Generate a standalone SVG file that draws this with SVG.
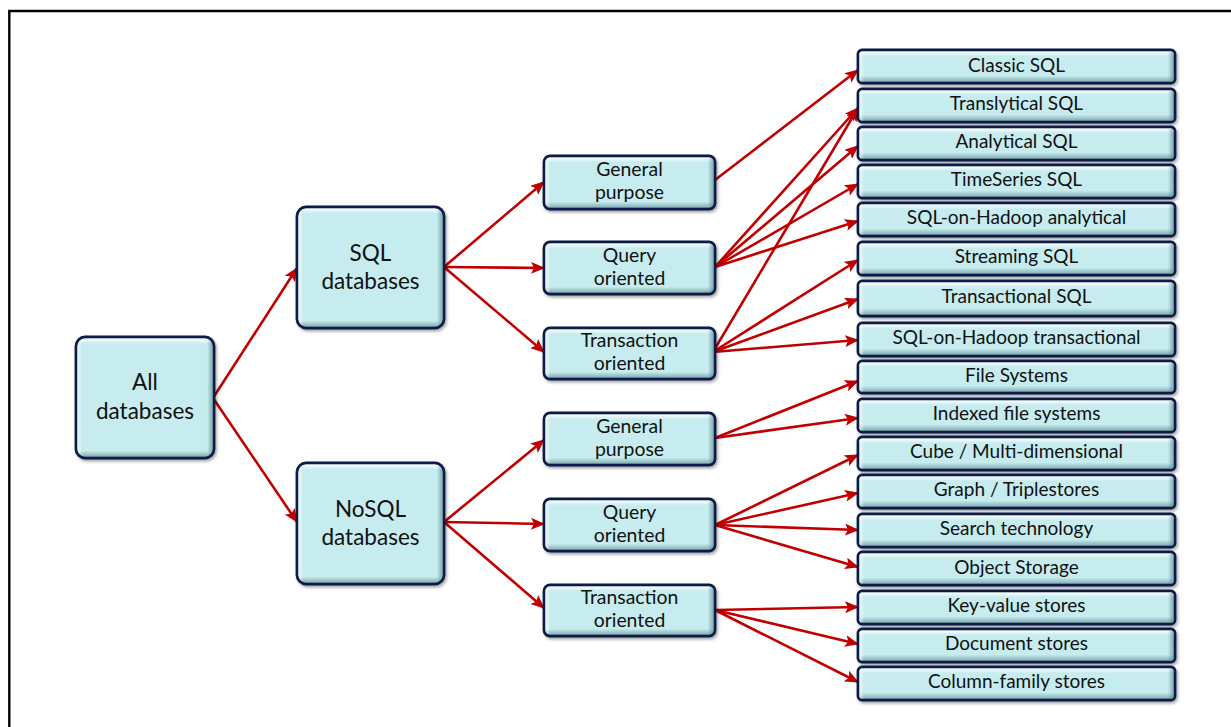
<svg xmlns="http://www.w3.org/2000/svg" width="1231" height="727" viewBox="0 0 1231 727">
  <defs>
    <style>
      .box { fill: #c6ecef; stroke: #0c1d47; stroke-width: 2.8; filter: url(#shadow); }
      .ov { stroke: none; pointer-events: none; }
      .t { font-family: Lato, "Liberation Sans", sans-serif; fill: #111; text-anchor: middle; }
      .leaf { font-size: 19px; }
      .mid { font-size: 19.4px; }
      .big { font-size: 22.5px; }
      .edge { stroke: #c00000; stroke-width: 2.6; fill: none; marker-end: url(#arrow); }
    </style>
    <filter id="shadow" x="-10%" y="-20%" width="130%" height="150%">
      <feDropShadow dx="1.5" dy="2" stdDeviation="1.4" flood-color="#000" flood-opacity="0.35"/>
    </filter>
    <marker id="arrow" markerUnits="userSpaceOnUse" markerWidth="14" markerHeight="12" viewBox="0 0 14 12" refX="13" refY="6" orient="auto">
      <path d="M0,0 L14,6 L0,12 L3,6 Z" fill="#c00000"/>
    </marker>
    <!-- bevel overlays: light top/left edge, darker bottom/right edge -->
    <linearGradient id="vLeaf" x1="0" y1="0" x2="0" y2="1">
      <stop offset="0" stop-color="#fff" stop-opacity="0.95"/>
      <stop offset="0.16" stop-color="#fff" stop-opacity="0"/>
      <stop offset="0.8" stop-color="#4d7b82" stop-opacity="0"/>
      <stop offset="1" stop-color="#4d7b82" stop-opacity="0.55"/>
    </linearGradient>
    <linearGradient id="hLeaf" x1="0" y1="0" x2="1" y2="0">
      <stop offset="0" stop-color="#fff" stop-opacity="0.7"/>
      <stop offset="0.015" stop-color="#fff" stop-opacity="0"/>
      <stop offset="0.982" stop-color="#4d7b82" stop-opacity="0"/>
      <stop offset="1" stop-color="#4d7b82" stop-opacity="0.6"/>
    </linearGradient>
    <linearGradient id="vMid" x1="0" y1="0" x2="0" y2="1">
      <stop offset="0" stop-color="#fff" stop-opacity="0.95"/>
      <stop offset="0.1" stop-color="#fff" stop-opacity="0"/>
      <stop offset="0.88" stop-color="#4d7b82" stop-opacity="0"/>
      <stop offset="1" stop-color="#4d7b82" stop-opacity="0.55"/>
    </linearGradient>
    <linearGradient id="hMid" x1="0" y1="0" x2="1" y2="0">
      <stop offset="0" stop-color="#fff" stop-opacity="0.7"/>
      <stop offset="0.03" stop-color="#fff" stop-opacity="0"/>
      <stop offset="0.965" stop-color="#4d7b82" stop-opacity="0"/>
      <stop offset="1" stop-color="#4d7b82" stop-opacity="0.6"/>
    </linearGradient>
    <linearGradient id="vBig" x1="0" y1="0" x2="0" y2="1">
      <stop offset="0" stop-color="#fff" stop-opacity="0.95"/>
      <stop offset="0.045" stop-color="#fff" stop-opacity="0"/>
      <stop offset="0.95" stop-color="#4d7b82" stop-opacity="0"/>
      <stop offset="1" stop-color="#4d7b82" stop-opacity="0.55"/>
    </linearGradient>
    <linearGradient id="hBig" x1="0" y1="0" x2="1" y2="0">
      <stop offset="0" stop-color="#fff" stop-opacity="0.7"/>
      <stop offset="0.035" stop-color="#fff" stop-opacity="0"/>
      <stop offset="0.96" stop-color="#4d7b82" stop-opacity="0"/>
      <stop offset="1" stop-color="#4d7b82" stop-opacity="0.6"/>
    </linearGradient>
  </defs>

  <rect width="1231" height="727" fill="#fff"/>
  <!-- page frame (runs off the right and bottom edges) -->
  <path d="M9.3,727 V11 H1231" fill="none" stroke="#000" stroke-width="2.4"/>

  <!-- connectors -->
  <g id="connectors">
    <line class="edge" x1="213" y1="398" x2="297" y2="268"/>
    <line class="edge" x1="213" y1="398" x2="297" y2="522"/>

    <line class="edge" x1="444" y1="267" x2="544" y2="182"/>
    <line class="edge" x1="444" y1="267" x2="544" y2="268"/>
    <line class="edge" x1="444" y1="267" x2="544" y2="352"/>

    <line class="edge" x1="444" y1="522" x2="544" y2="440"/>
    <line class="edge" x1="444" y1="522" x2="544" y2="524"/>
    <line class="edge" x1="444" y1="522" x2="544" y2="608"/>

    <line class="edge" x1="715" y1="180" x2="858" y2="70"/>

    <line class="edge" x1="715" y1="267" x2="858" y2="108"/>
    <line class="edge" x1="715" y1="267" x2="858" y2="146"/>
    <line class="edge" x1="715" y1="267" x2="858" y2="184"/>
    <line class="edge" x1="715" y1="267" x2="858" y2="221"/>

    <line class="edge" x1="713" y1="352" x2="858" y2="108"/>
    <line class="edge" x1="713" y1="352" x2="858" y2="260"/>
    <line class="edge" x1="713" y1="352" x2="858" y2="299"/>
    <line class="edge" x1="713" y1="352" x2="858" y2="340"/>

    <line class="edge" x1="715" y1="438" x2="858" y2="381"/>
    <line class="edge" x1="715" y1="438" x2="858" y2="418"/>

    <line class="edge" x1="715" y1="525" x2="858" y2="455"/>
    <line class="edge" x1="715" y1="525" x2="858" y2="493"/>
    <line class="edge" x1="715" y1="525" x2="858" y2="530"/>
    <line class="edge" x1="715" y1="525" x2="858" y2="567"/>

    <line class="edge" x1="715" y1="610" x2="858" y2="607"/>
    <line class="edge" x1="715" y1="610" x2="858" y2="644"/>
    <line class="edge" x1="715" y1="610" x2="858" y2="682"/>
  </g>

  <!-- level 0 -->
  <g id="all-databases">
    <rect class="box" x="76" y="337" width="138" height="121" rx="9"/>
    <rect class="ov" x="77.4" y="338.4" width="135.2" height="118.2" rx="8" fill="url(#vBig)"/>
    <rect class="ov" x="77.4" y="338.4" width="135.2" height="118.2" rx="8" fill="url(#hBig)"/>
    <text class="t big" x="145" y="390">All<tspan x="145" dy="29">databases</tspan></text>
  </g>

  <!-- level 1 -->
  <g id="sql-databases">
    <rect class="box" x="297" y="207" width="147" height="121" rx="9"/>
    <rect class="ov" x="298.4" y="208.4" width="144.2" height="118.2" rx="8" fill="url(#vBig)"/>
    <rect class="ov" x="298.4" y="208.4" width="144.2" height="118.2" rx="8" fill="url(#hBig)"/>
    <text class="t big" x="370.5" y="261">SQL<tspan x="370.5" dy="28">databases</tspan></text>
  </g>
  <g id="nosql-databases">
    <rect class="box" x="297" y="463" width="147" height="121" rx="9"/>
    <rect class="ov" x="298.4" y="464.4" width="144.2" height="118.2" rx="8" fill="url(#vBig)"/>
    <rect class="ov" x="298.4" y="464.4" width="144.2" height="118.2" rx="8" fill="url(#hBig)"/>
    <text class="t big" x="370.5" y="517">NoSQL<tspan x="370.5" dy="28">databases</tspan></text>
  </g>

  <!-- level 2 -->
  <g id="sql-general">
    <rect class="box" x="544" y="156" width="171" height="53" rx="6"/>
    <rect class="ov" x="545.4" y="157.4" width="168.2" height="50.2" rx="5" fill="url(#vMid)"/>
    <rect class="ov" x="545.4" y="157.4" width="168.2" height="50.2" rx="5" fill="url(#hMid)"/>
    <text class="t mid" x="629.5" y="175.5">General<tspan x="629.5" dy="23.4">purpose</tspan></text>
  </g>
  <g id="sql-query">
    <rect class="box" x="544" y="242" width="171" height="52" rx="6"/>
    <rect class="ov" x="545.4" y="243.4" width="168.2" height="49.2" rx="5" fill="url(#vMid)"/>
    <rect class="ov" x="545.4" y="243.4" width="168.2" height="49.2" rx="5" fill="url(#hMid)"/>
    <text class="t mid" x="629.5" y="261.5">Query<tspan x="629.5" dy="23.4">oriented</tspan></text>
  </g>
  <g id="sql-transaction">
    <rect class="box" x="544" y="328" width="171" height="51" rx="6"/>
    <rect class="ov" x="545.4" y="329.4" width="168.2" height="48.2" rx="5" fill="url(#vMid)"/>
    <rect class="ov" x="545.4" y="329.4" width="168.2" height="48.2" rx="5" fill="url(#hMid)"/>
    <text class="t mid" x="629.5" y="346.5">Transaction<tspan x="629.5" dy="23.4">oriented</tspan></text>
  </g>
  <g id="nosql-general">
    <rect class="box" x="544" y="413" width="171" height="52" rx="6"/>
    <rect class="ov" x="545.4" y="414.4" width="168.2" height="49.2" rx="5" fill="url(#vMid)"/>
    <rect class="ov" x="545.4" y="414.4" width="168.2" height="49.2" rx="5" fill="url(#hMid)"/>
    <text class="t mid" x="629.5" y="432.5">General<tspan x="629.5" dy="23.4">purpose</tspan></text>
  </g>
  <g id="nosql-query">
    <rect class="box" x="544" y="499" width="171" height="52" rx="6"/>
    <rect class="ov" x="545.4" y="500.4" width="168.2" height="49.2" rx="5" fill="url(#vMid)"/>
    <rect class="ov" x="545.4" y="500.4" width="168.2" height="49.2" rx="5" fill="url(#hMid)"/>
    <text class="t mid" x="629.5" y="518.5">Query<tspan x="629.5" dy="23.4">oriented</tspan></text>
  </g>
  <g id="nosql-transaction">
    <rect class="box" x="544" y="585" width="171" height="51" rx="6"/>
    <rect class="ov" x="545.4" y="586.4" width="168.2" height="48.2" rx="5" fill="url(#vMid)"/>
    <rect class="ov" x="545.4" y="586.4" width="168.2" height="48.2" rx="5" fill="url(#hMid)"/>
    <text class="t mid" x="629.5" y="603.5">Transaction<tspan x="629.5" dy="23.4">oriented</tspan></text>
  </g>

  <!-- level 3: SQL categories -->
  <g id="classic-sql">
    <rect class="box" x="858" y="50" width="317" height="33" rx="4"/>
    <rect class="ov" x="859.4" y="51.4" width="314.2" height="30.2" rx="3" fill="url(#vLeaf)"/>
    <rect class="ov" x="859.4" y="51.4" width="314.2" height="30.2" rx="3" fill="url(#hLeaf)"/>
    <text class="t leaf" x="1016.5" y="72">Classic SQL</text>
  </g>
  <g id="translytical-sql">
    <rect class="box" x="858" y="89" width="317" height="33" rx="4"/>
    <rect class="ov" x="859.4" y="90.4" width="314.2" height="30.2" rx="3" fill="url(#vLeaf)"/>
    <rect class="ov" x="859.4" y="90.4" width="314.2" height="30.2" rx="3" fill="url(#hLeaf)"/>
    <text class="t leaf" x="1016.5" y="110">Translytical SQL</text>
  </g>
  <g id="analytical-sql">
    <rect class="box" x="858" y="127" width="317" height="33" rx="4"/>
    <rect class="ov" x="859.4" y="128.4" width="314.2" height="30.2" rx="3" fill="url(#vLeaf)"/>
    <rect class="ov" x="859.4" y="128.4" width="314.2" height="30.2" rx="3" fill="url(#hLeaf)"/>
    <text class="t leaf" x="1016.5" y="148">Analytical SQL</text>
  </g>
  <g id="timeseries-sql">
    <rect class="box" x="858" y="165" width="317" height="33" rx="4"/>
    <rect class="ov" x="859.4" y="166.4" width="314.2" height="30.2" rx="3" fill="url(#vLeaf)"/>
    <rect class="ov" x="859.4" y="166.4" width="314.2" height="30.2" rx="3" fill="url(#hLeaf)"/>
    <text class="t leaf" x="1016.5" y="186">TimeSeries SQL</text>
  </g>
  <g id="sql-on-hadoop-analytical">
    <rect class="box" x="858" y="203" width="317" height="33" rx="4"/>
    <rect class="ov" x="859.4" y="204.4" width="314.2" height="30.2" rx="3" fill="url(#vLeaf)"/>
    <rect class="ov" x="859.4" y="204.4" width="314.2" height="30.2" rx="3" fill="url(#hLeaf)"/>
    <text class="t leaf" x="1016.5" y="224">SQL-on-Hadoop analytical</text>
  </g>
  <g id="streaming-sql">
    <rect class="box" x="858" y="242" width="317" height="33" rx="4"/>
    <rect class="ov" x="859.4" y="243.4" width="314.2" height="30.2" rx="3" fill="url(#vLeaf)"/>
    <rect class="ov" x="859.4" y="243.4" width="314.2" height="30.2" rx="3" fill="url(#hLeaf)"/>
    <text class="t leaf" x="1016.5" y="263">Streaming SQL</text>
  </g>
  <g id="transactional-sql">
    <rect class="box" x="858" y="281" width="317" height="35" rx="4"/>
    <rect class="ov" x="859.4" y="282.4" width="314.2" height="32.2" rx="3" fill="url(#vLeaf)"/>
    <rect class="ov" x="859.4" y="282.4" width="314.2" height="32.2" rx="3" fill="url(#hLeaf)"/>
    <text class="t leaf" x="1016.5" y="303">Transactional SQL</text>
  </g>
  <g id="sql-on-hadoop-transactional">
    <rect class="box" x="858" y="323" width="317" height="33" rx="4"/>
    <rect class="ov" x="859.4" y="324.4" width="314.2" height="30.2" rx="3" fill="url(#vLeaf)"/>
    <rect class="ov" x="859.4" y="324.4" width="314.2" height="30.2" rx="3" fill="url(#hLeaf)"/>
    <text class="t leaf" x="1016.5" y="344">SQL-on-Hadoop transactional</text>
  </g>

  <!-- level 3: NoSQL categories -->
  <g id="file-systems">
    <rect class="box" x="858" y="361" width="317" height="32" rx="4"/>
    <rect class="ov" x="859.4" y="362.4" width="314.2" height="29.2" rx="3" fill="url(#vLeaf)"/>
    <rect class="ov" x="859.4" y="362.4" width="314.2" height="29.2" rx="3" fill="url(#hLeaf)"/>
    <text class="t leaf" x="1016.5" y="382">File Systems</text>
  </g>
  <g id="indexed-file-systems">
    <rect class="box" x="858" y="399" width="317" height="33" rx="4"/>
    <rect class="ov" x="859.4" y="400.4" width="314.2" height="30.2" rx="3" fill="url(#vLeaf)"/>
    <rect class="ov" x="859.4" y="400.4" width="314.2" height="30.2" rx="3" fill="url(#hLeaf)"/>
    <text class="t leaf" x="1016.5" y="420">Indexed file systems</text>
  </g>
  <g id="cube">
    <rect class="box" x="858" y="437" width="317" height="33" rx="4"/>
    <rect class="ov" x="859.4" y="438.4" width="314.2" height="30.2" rx="3" fill="url(#vLeaf)"/>
    <rect class="ov" x="859.4" y="438.4" width="314.2" height="30.2" rx="3" fill="url(#hLeaf)"/>
    <text class="t leaf" x="1016.5" y="458">Cube / Multi-dimensional</text>
  </g>
  <g id="graph">
    <rect class="box" x="858" y="475" width="317" height="33" rx="4"/>
    <rect class="ov" x="859.4" y="476.4" width="314.2" height="30.2" rx="3" fill="url(#vLeaf)"/>
    <rect class="ov" x="859.4" y="476.4" width="314.2" height="30.2" rx="3" fill="url(#hLeaf)"/>
    <text class="t leaf" x="1016.5" y="496">Graph / Triplestores</text>
  </g>
  <g id="search">
    <rect class="box" x="858" y="514" width="317" height="33" rx="4"/>
    <rect class="ov" x="859.4" y="515.4" width="314.2" height="30.2" rx="3" fill="url(#vLeaf)"/>
    <rect class="ov" x="859.4" y="515.4" width="314.2" height="30.2" rx="3" fill="url(#hLeaf)"/>
    <text class="t leaf" x="1016.5" y="535">Search technology</text>
  </g>
  <g id="object-storage">
    <rect class="box" x="858" y="552" width="317" height="33" rx="4"/>
    <rect class="ov" x="859.4" y="553.4" width="314.2" height="30.2" rx="3" fill="url(#vLeaf)"/>
    <rect class="ov" x="859.4" y="553.4" width="314.2" height="30.2" rx="3" fill="url(#hLeaf)"/>
    <text class="t leaf" x="1016.5" y="574">Object Storage</text>
  </g>
  <g id="key-value">
    <rect class="box" x="858" y="591" width="317" height="33" rx="4"/>
    <rect class="ov" x="859.4" y="592.4" width="314.2" height="30.2" rx="3" fill="url(#vLeaf)"/>
    <rect class="ov" x="859.4" y="592.4" width="314.2" height="30.2" rx="3" fill="url(#hLeaf)"/>
    <text class="t leaf" x="1016.5" y="612">Key-value stores</text>
  </g>
  <g id="document-stores">
    <rect class="box" x="858" y="629" width="317" height="33" rx="4"/>
    <rect class="ov" x="859.4" y="630.4" width="314.2" height="30.2" rx="3" fill="url(#vLeaf)"/>
    <rect class="ov" x="859.4" y="630.4" width="314.2" height="30.2" rx="3" fill="url(#hLeaf)"/>
    <text class="t leaf" x="1016.5" y="650">Document stores</text>
  </g>
  <g id="column-family">
    <rect class="box" x="858" y="667" width="317" height="33" rx="4"/>
    <rect class="ov" x="859.4" y="668.4" width="314.2" height="30.2" rx="3" fill="url(#vLeaf)"/>
    <rect class="ov" x="859.4" y="668.4" width="314.2" height="30.2" rx="3" fill="url(#hLeaf)"/>
    <text class="t leaf" x="1016.5" y="688">Column-family stores</text>
  </g>
</svg>
